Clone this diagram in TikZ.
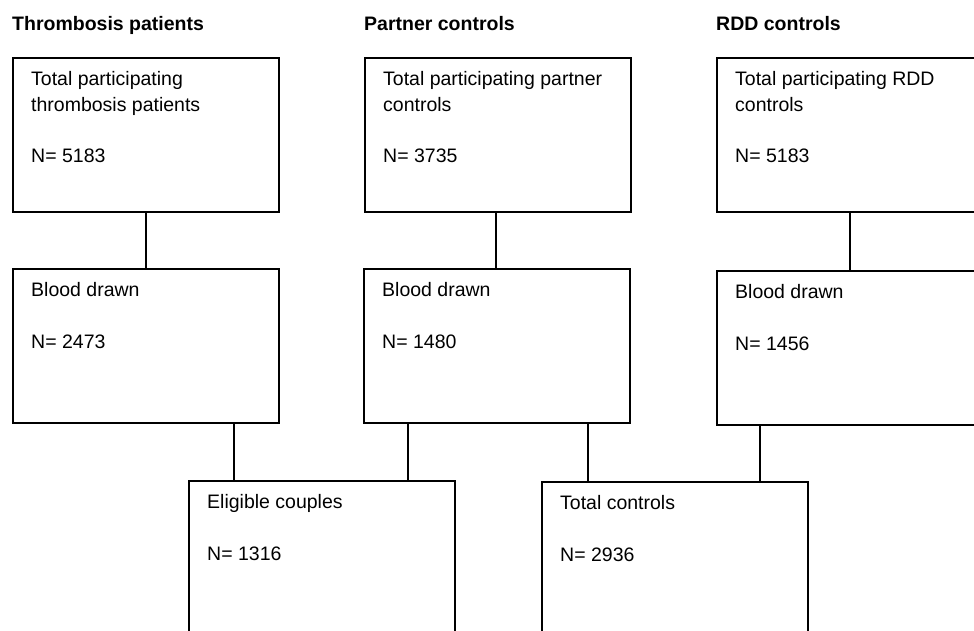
\documentclass[tikz,border=0pt]{standalone}
\usepackage{fontspec}
\setmainfont{Liberation Sans}
\usetikzlibrary{calc}
\tikzset{
  box/.style={draw, line width=1.9pt, rectangle, minimum width=266pt, minimum height=154pt, anchor=north west, inner sep=0pt},
  boxtext/.style={anchor=north west, inner sep=0pt, align=left, font=\fontsize{19.5}{25.7}\selectfont},
  coltitle/.style={anchor=base west, inner sep=0pt, font=\fontsize{19.5}{23}\selectfont\bfseries},
  link/.style={draw, line width=1.9pt},
}
\newcommand{\firstline}{\rule{0pt}{20pt}}
\begin{document}
\begin{tikzpicture}[x=1pt,y=-1pt]
\useasboundingbox (0,0) rectangle (974,630);
\fill[white] (0,0) rectangle (974,630);
\clip (0,0) rectangle (974,630);

% column titles
\node[coltitle] (h1) at (12,30.5) {Thrombosis patients};
\node[coltitle] (h2) at (364,30.5) {Partner controls};
\node[coltitle] (h3) at (716,30.5) {RDD controls};

% boxes
\node[box] (b1) at (12,57) {};
\node[box] (b2) at (364,57) {};
\node[box] (b3) at (716,57) {};
\node[box] (b4) at (12,268) {};
\node[box] (b5) at (363,268) {};
\node[box] (b6) at (716,270) {};
\node[box] (b7) at (188,480) {};
\node[box] (b8) at (541,481) {};

% box texts
\node[boxtext] (t1) at ([xshift=19pt,yshift=-8.5pt]b1.north west) {\firstline Total participating\\thrombosis patients\\[25.7pt]N= 5183};
\node[boxtext] (t2) at ([xshift=19pt,yshift=-8.5pt]b2.north west) {\firstline Total participating partner\\controls\\[25.7pt]N= 3735};
\node[boxtext] (t3) at ([xshift=19pt,yshift=-8.5pt]b3.north west) {\firstline Total participating RDD\\controls\\[25.7pt]N= 5183};
\node[boxtext] (t4) at ([xshift=19pt,yshift=-8.5pt]b4.north west) {\firstline Blood drawn\\[25.7pt]N= 2473};
\node[boxtext] (t5) at ([xshift=19pt,yshift=-8.5pt]b5.north west) {\firstline Blood drawn\\[25.7pt]N= 1480};
\node[boxtext] (t6) at ([xshift=19pt,yshift=-8.5pt]b6.north west) {\firstline Blood drawn\\[25.7pt]N= 1456};
\node[boxtext] (t7) at ([xshift=19pt,yshift=-8.5pt]b7.north west) {\firstline Eligible couples\\[25.7pt]N= 1316};
\node[boxtext] (t8) at ([xshift=19pt,yshift=-8.5pt]b8.north west) {\firstline Total controls\\[25.7pt]N= 2936};

% connectors
\draw[link] (b1.south) -- (b1.south |- b4.north);
\draw[link] ([xshift=-2pt]b2.south) -- ([xshift=-2pt]b2.south |- b5.north);
\draw[link] (b3.south) -- (b3.south |- b6.north);
\draw[link] ([xshift=-46pt]b4.south east) -- ([xshift=-46pt]b4.south east |- b7.north);
\draw[link] ([xshift=45pt]b5.south west) -- ([xshift=45pt]b5.south west |- b7.north);
\draw[link] ([xshift=-43pt]b5.south east) -- ([xshift=-43pt]b5.south east |- b8.north);
\draw[link] ([xshift=44pt]b6.south west) -- ([xshift=44pt]b6.south west |- b8.north);
\end{tikzpicture}
\end{document}
